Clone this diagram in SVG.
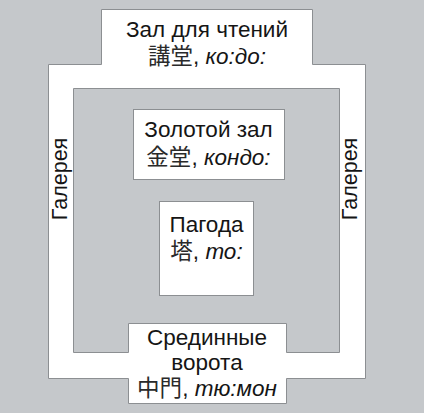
<svg xmlns="http://www.w3.org/2000/svg" width="424" height="413" viewBox="0 0 424 413">
<style>
.wall{fill:#ffffff;stroke:#8c8f92;stroke-width:1}
.yard{fill:#c5c8cb;stroke:#8c8f92;stroke-width:1}
.box{fill:#ffffff;stroke:#8c8f92;stroke-width:1}
text{font-family:"Liberation Sans",Arial,"Noto Sans CJK JP",sans-serif;font-size:22.5px;fill:#151515;text-anchor:middle}
text.side{font-size:21.5px}
.it{font-style:italic}
.cjk{font-family:"Noto Sans CJK JP",sans-serif;fill:#2a2a2a}
</style>
<rect x="0" y="0" width="424" height="413" fill="#c5c8cb"/>
<g id="gallery">
<path class="wall" d="M101.5 9.5H312.5V64.5H365.5V378.5H286.5V403.5H128.5V378.5H48.5V64.5H101.5Z"/>
<path class="yard" d="M73.5 88.5H339.5V352.5H286.5V323.5H128.5V352.5H73.5Z"/>
<text class="side" transform="translate(67 179) rotate(-90)">Галерея</text>
<text class="side" transform="translate(357 179) rotate(-90)">Галерея</text>
</g>
<g id="lecture-hall">
<text x="207" y="37">Зал для чтений</text>
<text x="207" y="64"><tspan class="cjk">講堂</tspan>, <tspan class="it">ко:до:</tspan></text>
</g>
<g id="golden-hall">
<rect class="box" x="133.5" y="109.5" width="151" height="70"/>
<text x="208.5" y="137">Золотой зал</text>
<text x="208.5" y="165"><tspan class="cjk">金堂</tspan>, <tspan class="it">кондо:</tspan></text>
</g>
<g id="pagoda">
<rect class="box" x="159.5" y="201.5" width="94" height="94"/>
<text x="206.5" y="232">Пагода</text>
<text x="206.5" y="259"><tspan class="cjk">塔</tspan>, <tspan class="it">то:</tspan></text>
</g>
<g id="middle-gate">
<text x="207" y="345">Срединные</text>
<text x="207" y="370">ворота</text>
<text x="207" y="396"><tspan class="cjk">中門</tspan>, <tspan class="it">тю:мон</tspan></text>
</g>
<g id="connectors"/>
</svg>
